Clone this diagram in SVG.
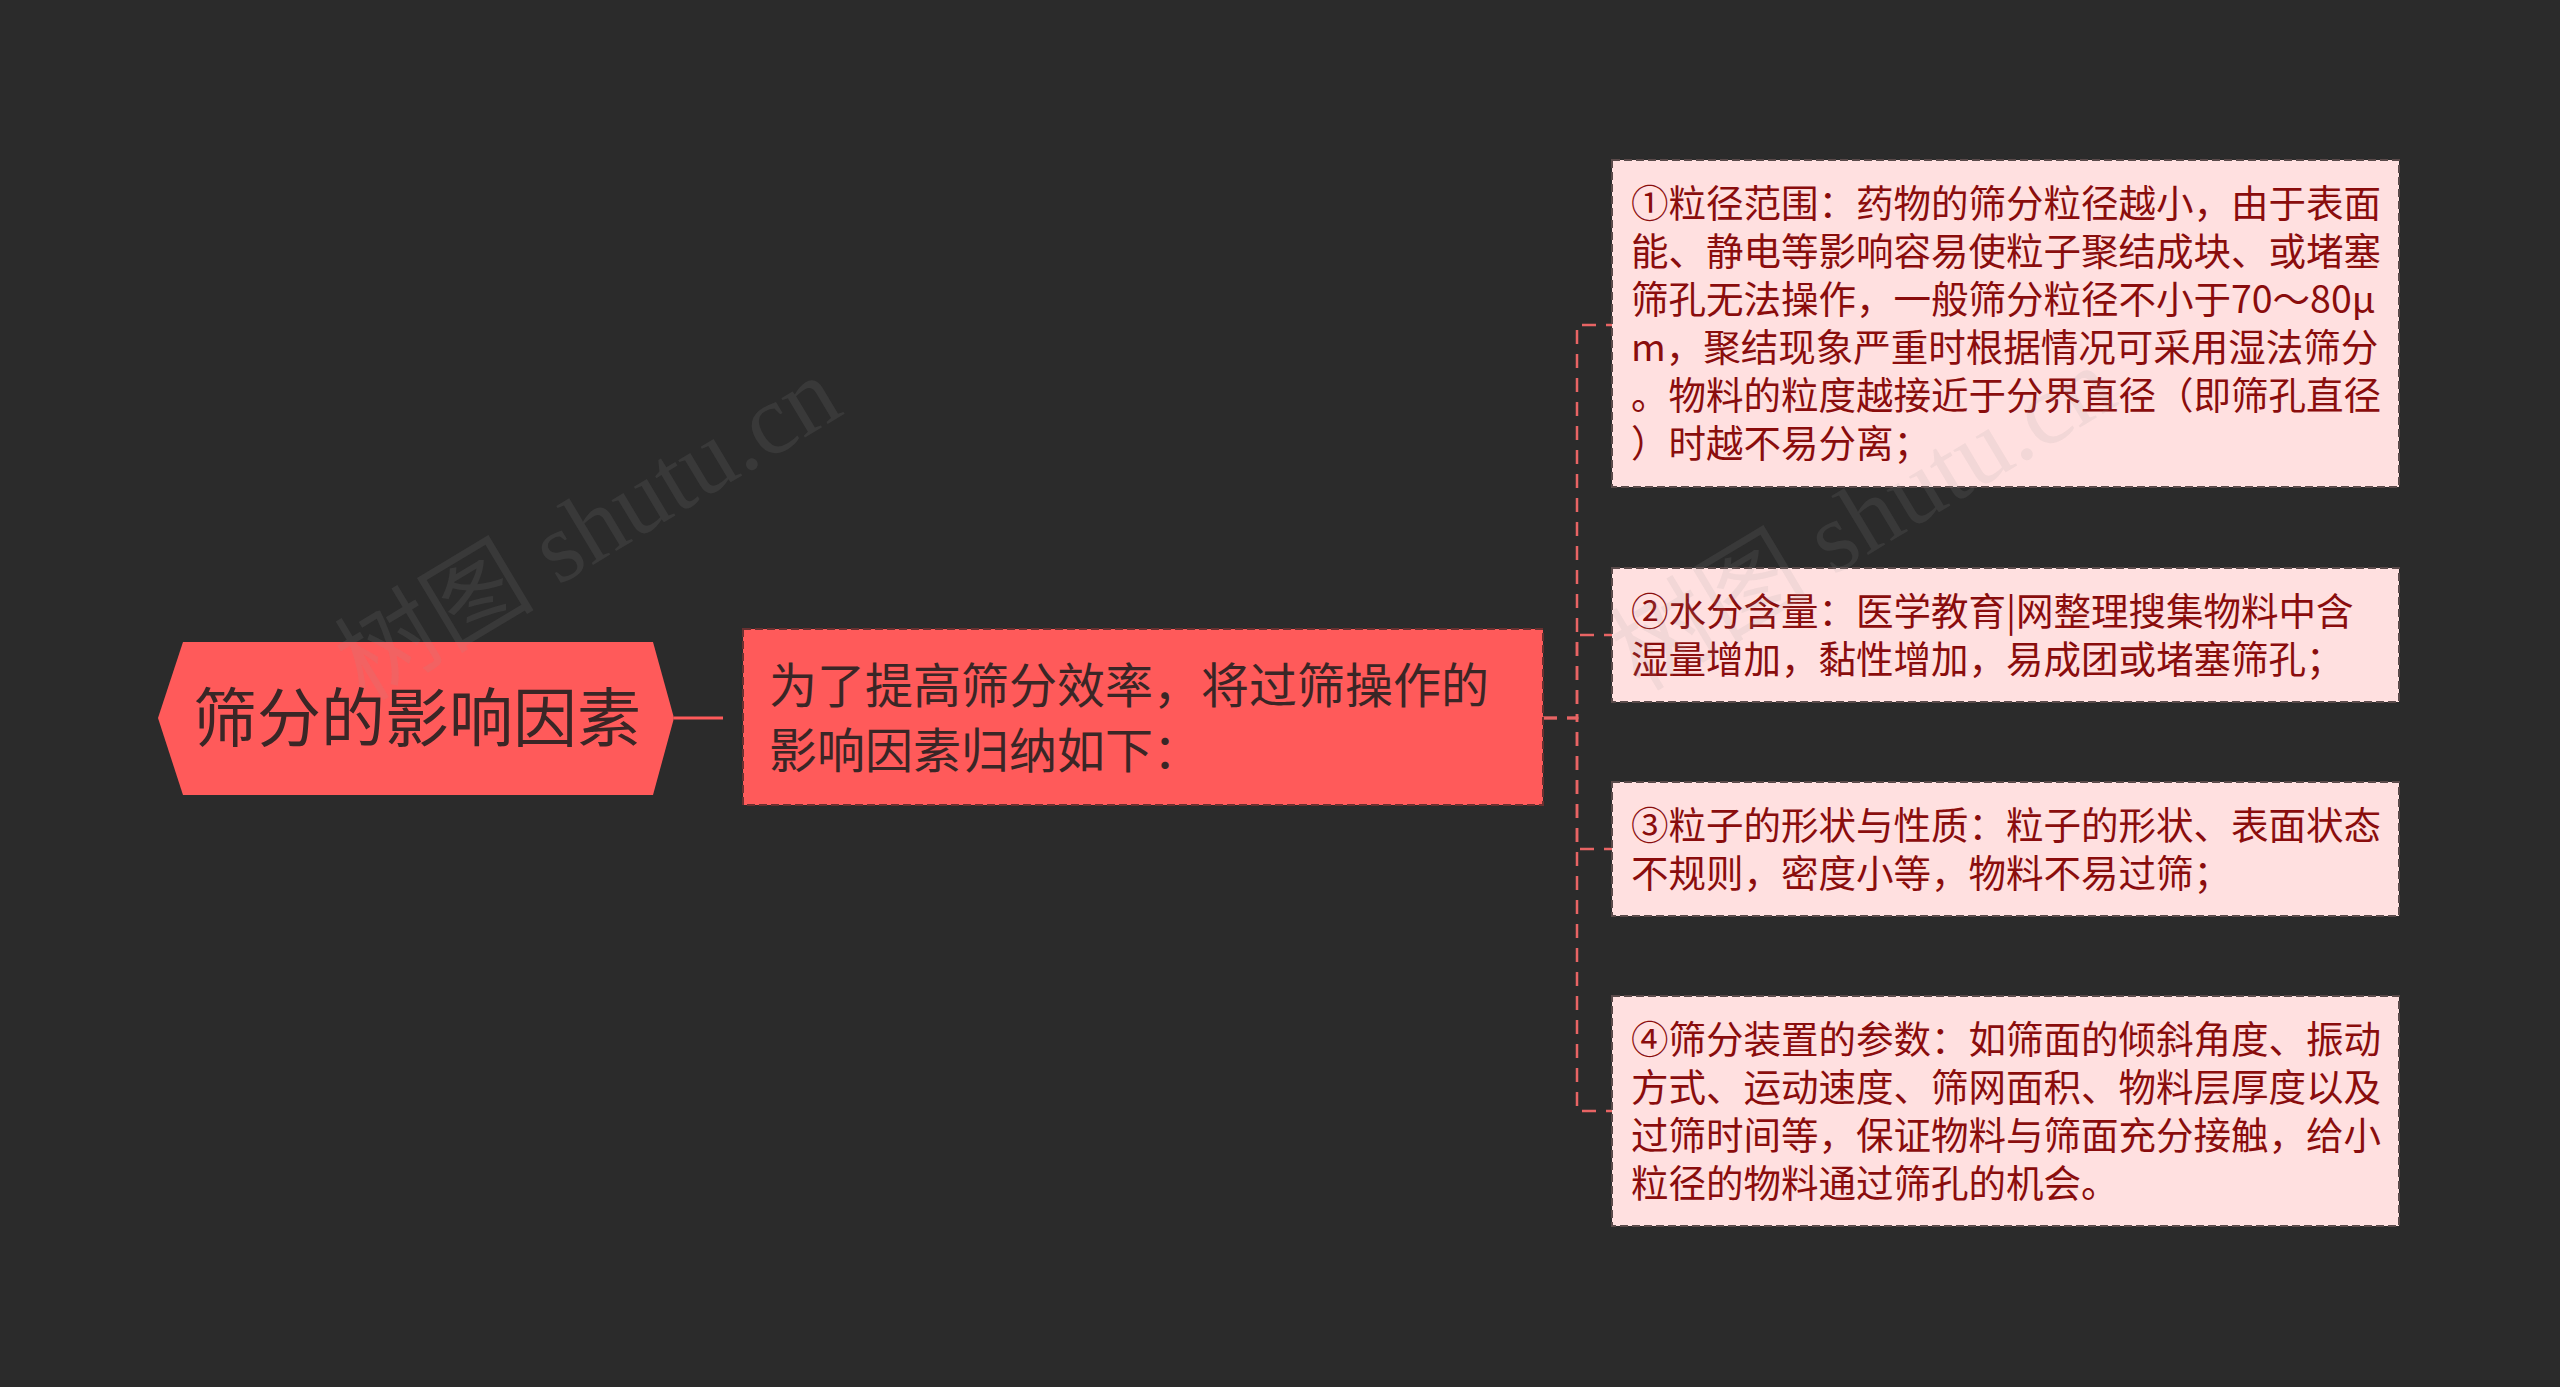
<svg xmlns="http://www.w3.org/2000/svg" width="2560" height="1387" viewBox="0 0 2560 1387">
<style>
.cjk{font-family:"Noto Sans CJK SC","Noto Sans",sans-serif}
.root-t{font-size:64px;fill:#3a2626}
.sub-t{font-size:48px;fill:#3a2626}
.leaf-t{font-size:37.5px;fill:#8a0d0d}
.leaf{fill:#ffe0e0;stroke:#5a4a4a;stroke-width:2;stroke-dasharray:8 4}
.sub{fill:#ff5a5a;stroke:#6a3030;stroke-width:2;stroke-dasharray:8 4}
.conn{fill:none;stroke:#e86464;stroke-width:2.5;stroke-dasharray:14 10}
.wm{font-family:"Liberation Serif","Noto Sans CJK SC",serif;font-size:100px;fill:#9a9a9a;fill-opacity:0.13}
</style>
<rect width="2560" height="1387" fill="#2b2b2b"/>
<g id="connectors">
<line x1="674" y1="718" x2="723" y2="718" stroke="#ff5a5a" stroke-width="3"/>
<path class="conn" d="M1543,718 H1577 V325 H1612"/>
<path class="conn" d="M1543,718 H1577 V635 H1612"/>
<path class="conn" d="M1543,718 H1577 V849 H1612"/>
<path class="conn" d="M1543,718 H1577 V1111 H1612"/>
</g>
<g id="root">
<polygon points="158,718 183,642 653,642 674,718 653,795 183,795" fill="#ff5a5a"/>
<text class="cjk root-t" x="417" y="741" text-anchor="middle">筛分的影响因素</text>
</g>
<g id="sub">
<rect class="sub" x="743" y="629" width="800" height="176"/>
<text class="cjk sub-t" x="769" y="703">为了提高筛分效率，将过筛操作的</text>
<text class="cjk sub-t" x="769" y="768">影响因素归纳如下：</text>
</g>
<g id="leaf1">
<rect class="leaf" x="1612" y="160" width="787" height="327"/>
<text class="cjk leaf-t">
<tspan x="1631" y="217">①粒径范围：药物的筛分粒径越小，由于表面</tspan>
<tspan x="1631" y="265">能、静电等影响容易使粒子聚结成块、或堵塞</tspan>
<tspan x="1631" y="313">筛孔无法操作，一般筛分粒径不小于70～80μ</tspan>
<tspan x="1631" y="361">m，聚结现象严重时根据情况可采用湿法筛分</tspan>
<tspan x="1631" y="409">。物料的粒度越接近于分界直径（即筛孔直径</tspan>
<tspan x="1631" y="457">）时越不易分离；</tspan>
</text>
</g>
<g id="leaf2">
<rect class="leaf" x="1612" y="568" width="787" height="134"/>
<text class="cjk leaf-t">
<tspan x="1631" y="625">②水分含量：医学教育|网整理搜集物料中含</tspan>
<tspan x="1631" y="673">湿量增加，黏性增加，易成团或堵塞筛孔；</tspan>
</text>
</g>
<g id="leaf3">
<rect class="leaf" x="1612" y="782" width="787" height="134"/>
<text class="cjk leaf-t">
<tspan x="1631" y="839">③粒子的形状与性质：粒子的形状、表面状态</tspan>
<tspan x="1631" y="887">不规则，密度小等，物料不易过筛；</tspan>
</text>
</g>
<g id="leaf4">
<rect class="leaf" x="1612" y="996" width="787" height="230"/>
<text class="cjk leaf-t">
<tspan x="1631" y="1053">④筛分装置的参数：如筛面的倾斜角度、振动</tspan>
<tspan x="1631" y="1101">方式、运动速度、筛网面积、物料层厚度以及</tspan>
<tspan x="1631" y="1149">过筛时间等，保证物料与筛面充分接触，给小</tspan>
<tspan x="1631" y="1197">粒径的物料通过筛孔的机会。</tspan>
</text>
</g>
<g id="watermarks">
<text class="wm" transform="translate(365,702) rotate(-31)">树图 shutu.cn</text>
<text class="wm" transform="translate(1640,692) rotate(-31)">树图 shutu.cn</text>
</g>
</svg>
